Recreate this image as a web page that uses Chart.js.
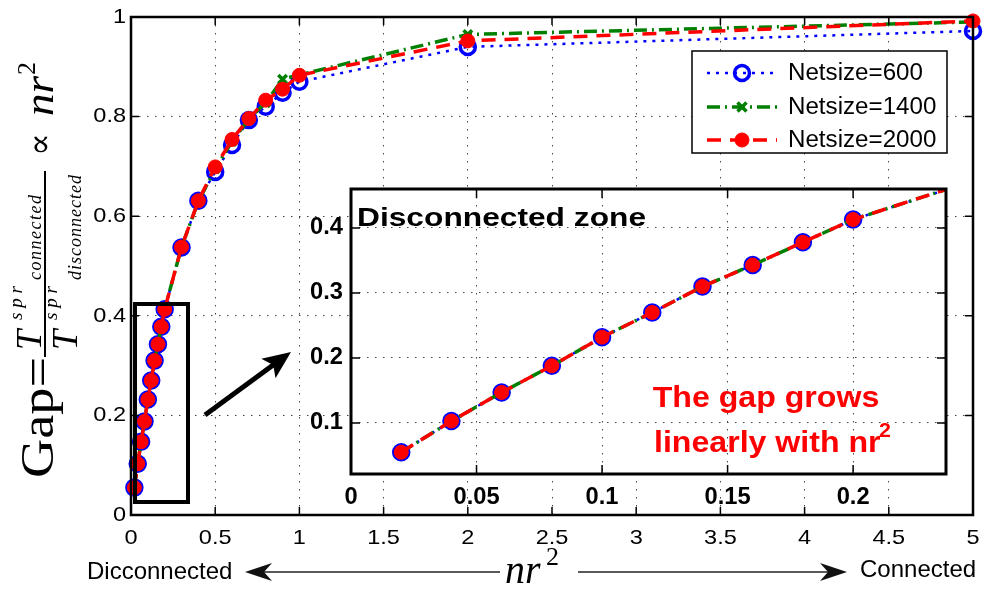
<!DOCTYPE html>
<html>
<head>
<meta charset="utf-8">
<script src="https://cdn.jsdelivr.net/npm/chart.js@4/dist/chart.umd.min.js"></script>
<style>
  html, body { margin: 0; padding: 0; background: #fff; }
  #wrap { position: relative; width: 985px; height: 590px; }
  #wrap canvas { position: absolute; left: 0; top: 0; }
</style>
</head>
<body>
<div id="wrap">
  <canvas id="main" width="985" height="590"></canvas>
  <canvas id="inset" width="985" height="590"></canvas>
</div>
<script>
// nr^2 values of the runs
const nr2 = [0.02, 0.04, 0.06, 0.08, 0.1, 0.12, 0.14, 0.16, 0.18, 0.2, 0.3, 0.4, 0.5, 0.6, 0.7, 0.8, 0.9, 1, 2, 5]

// gap = T_connected / T_disconnected for each network size
const gap600 = [0.055, 0.103, 0.147, 0.188, 0.232, 0.270, 0.310, 0.343, 0.378, 0.413, 0.537, 0.631, 0.689, 0.743, 0.793, 0.820, 0.848, 0.870, 0.940, 0.972]
const gap1400 = [0.055, 0.103, 0.147, 0.188, 0.232, 0.270, 0.310, 0.343, 0.378, 0.413, 0.538, 0.630, 0.695, 0.750, 0.795, 0.828, 0.875, 0.884, 0.965, 0.990]
const gap2000 = [0.055, 0.103, 0.147, 0.188, 0.232, 0.270, 0.310, 0.343, 0.378, 0.413, 0.538, 0.631, 0.699, 0.754, 0.796, 0.833, 0.855, 0.883, 0.952, 0.992]

const seriesNames = ['Netsize=600', 'Netsize=1400', 'Netsize=2000']

// tick values
const mainXTicks = [0, 0.5, 1, 1.5, 2, 2.5, 3, 3.5, 4, 4.5, 5]
const mainYTicks = [0, 0.2, 0.4, 0.6, 0.8, 1]
const insetXTicks = [0, 0.05, 0.1, 0.15, 0.2]
const insetYTicks = [0.1, 0.2, 0.3, 0.4]

const SANS = '"Liberation Sans", Arial, sans-serif'
const SERIF = '"Liberation Serif", "Times New Roman", serif'

// matlab-ish line styles
const styles = [
  { color: '#0000ff', dash: [3, 6], width: 2.5, point: 'circle', radius: 7.5, pbw: 3.5, fill: 'rgba(0,0,0,0)' },
  { color: '#008000', dash: [13, 5, 2, 5], width: 3.5, point: 'crossRot', radius: 6, pbw: 3.5, fill: '#008000' },
  { color: '#ff0000', dash: [14, 9], width: 3.5, point: 'circle', radius: 7, pbw: 1, fill: '#ff0000' },
]

function makeDatasets(clip) {
  return [gap600, gap1400, gap2000].map((vals, i) => ({
    label: seriesNames[i],
    data: nr2.map((x, j) => ({ x: x, y: vals[j] })),
    borderColor: styles[i].color,
    borderDash: styles[i].dash,
    borderWidth: styles[i].width,
    pointStyle: styles[i].point,
    pointRadius: styles[i].radius,
    pointBorderWidth: styles[i].pbw,
    pointBorderColor: styles[i].color,
    pointBackgroundColor: styles[i].fill,
    tension: 0,
    clip: clip,
    order: 3 - i, // red on top
  }))
}

function put(ctx, s, x, y, font, color, align, sx, base) {
  ctx.save()
  ctx.font = font
  ctx.fillStyle = color || '#000'
  ctx.textAlign = align || 'left'
  ctx.textBaseline = base || 'middle'
  ctx.translate(x, y)
  ctx.scale(sx || 1, 1)
  ctx.fillText(s, 0, 0)
  ctx.restore()
}

// spread the letters of s between u0 and u1 (latex math italic look)
function spaced(ctx, s, u0, u1, v) {
  const ws = s.split('').map(c => ctx.measureText(c).width)
  const tot = ws.reduce((a, b) => a + b, 0)
  const g = (u1 - u0 - tot) / (s.length - 1)
  let u = u0
  s.split('').forEach((c, k) => {
    ctx.fillText(c, u, v)
    u += ws[k] + g
  })
}

// squeeze/stretch a string to a given length
function fitted(ctx, s, u0, len, v) {
  const w = ctx.measureText(s).width
  ctx.save()
  ctx.translate(u0, v)
  ctx.scale(len / w, 1)
  ctx.fillText(s, 0, 0)
  ctx.restore()
}

function axisScaleOpts(ticksArr, min, max, horizontal) {
  return {
    type: 'linear',
    min: min,
    max: max,
    afterBuildTicks: s => { s.ticks = ticksArr.map(v => ({ value: v })) },
    afterFit: s => { if (horizontal) s.height = 0; else s.width = 0 },
    ticks: { display: false },
    grid: { color: '#444', lineWidth: 1, drawTicks: false },
    border: { display: false, dash: [1.5, 6.5] },
  }
}

// box + inward ticks like matlab
function drawBox(ctx, chart, tickLen, lw) {
  const a = chart.chartArea
  const xs = chart.scales.x, ys = chart.scales.y
  ctx.save()
  ctx.strokeStyle = '#000'
  ctx.lineWidth = lw
  ctx.setLineDash([])
  ctx.strokeRect(a.left, a.top, a.right - a.left, a.bottom - a.top)
  ctx.lineWidth = 1.5
  ctx.beginPath()
  xs.ticks.forEach(t => {
    const px = xs.getPixelForValue(t.value)
    ctx.moveTo(px, a.bottom); ctx.lineTo(px, a.bottom - tickLen)
    ctx.moveTo(px, a.top); ctx.lineTo(px, a.top + tickLen)
  })
  ys.ticks.forEach(t => {
    const py = ys.getPixelForValue(t.value)
    ctx.moveTo(a.left, py); ctx.lineTo(a.left + tickLen, py)
    ctx.moveTo(a.right, py); ctx.lineTo(a.right - tickLen, py)
  })
  ctx.stroke()
  ctx.restore()
}

function arrowHead(ctx, tx, ty, ang, len, half, notch) {
  const c = Math.cos(ang), s = Math.sin(ang)
  const p = (u, v) => [tx - u * c - v * s, ty - u * s + v * c]
  ctx.beginPath()
  ctx.moveTo(tx, ty)
  let q = p(len, half); ctx.lineTo(q[0], q[1])
  q = p(len - notch, 0); ctx.lineTo(q[0], q[1])
  q = p(len, -half); ctx.lineTo(q[0], q[1])
  ctx.closePath()
  ctx.fill()
}

const mainDecor = {
  id: 'mainDecor',
  afterDraw(chart) {
    const ctx = chart.ctx
    const xs = chart.scales.x, ys = chart.scales.y
    drawBox(ctx, chart, 8, 2.5)

    // tick labels
    xs.ticks.forEach(t => put(ctx, String(t.value), xs.getPixelForValue(t.value), 538, '21px ' + SANS, '#000', 'center', 1.12))
    ys.ticks.forEach(t => put(ctx, String(t.value), 126, ys.getPixelForValue(t.value), '21px ' + SANS, '#000', 'right', 1.12))

    // legend
    ctx.save()
    ctx.fillStyle = '#fff'
    ctx.fillRect(692, 51, 255, 102)
    ctx.strokeStyle = '#000'
    ctx.lineWidth = 1.5
    ctx.strokeRect(692, 51, 255, 102)
    const rows = [73, 107, 140]
    styles.forEach((st, i) => {
      const y = rows[i]
      ctx.strokeStyle = st.color
      ctx.lineWidth = st.width
      ctx.setLineDash(st.dash)
      ctx.beginPath(); ctx.moveTo(707, y); ctx.lineTo(777, y); ctx.stroke()
      ctx.setLineDash([])
      if (st.point === 'crossRot') {
        ctx.lineWidth = st.pbw
        const r = st.radius * 0.75
        ctx.beginPath()
        ctx.moveTo(742 - r, y - r); ctx.lineTo(742 + r, y + r)
        ctx.moveTo(742 - r, y + r); ctx.lineTo(742 + r, y - r)
        ctx.stroke()
      } else {
        ctx.beginPath(); ctx.arc(742, y, st.radius, 0, Math.PI * 2)
        ctx.fillStyle = st.fill; ctx.fill()
        ctx.lineWidth = st.pbw; ctx.stroke()
      }
      put(ctx, seriesNames[i], 788, y + 1, '23px ' + SANS, '#000', 'left', 1.05)
    })
    ctx.restore()

    // zoom rectangle and arrow
    ctx.save()
    ctx.strokeStyle = '#000'
    ctx.fillStyle = '#000'
    ctx.lineWidth = 4
    ctx.strokeRect(135, 304, 53, 198)
    const ang = Math.atan2(352 - 415, 291 - 205)
    ctx.lineWidth = 5
    ctx.beginPath(); ctx.moveTo(205, 415); ctx.lineTo(205 + 0.8 * 86, 415 - 0.8 * 63); ctx.stroke()
    arrowHead(ctx, 291, 352, ang, 28, 12, 6)

    // bottom annotation arrows
    ctx.strokeStyle = '#222'
    ctx.fillStyle = '#111'
    ctx.lineWidth = 1.5
    ctx.beginPath(); ctx.moveTo(255, 572); ctx.lineTo(500, 572); ctx.stroke()
    arrowHead(ctx, 245, 572, Math.PI, 27, 9, 8)
    ctx.beginPath(); ctx.moveTo(578, 572); ctx.lineTo(837, 572); ctx.stroke()
    arrowHead(ctx, 847, 572, 0, 27, 9, 8)
    ctx.restore()
    put(ctx, 'Dicconnected', 87, 572, '24px ' + SANS, '#000', 'left', 1)
    put(ctx, 'Connected', 860, 570, '24px ' + SANS, '#000', 'left', 1)

    // x label  nr^2
    put(ctx, 'nr', 505, 583, 'italic 42px ' + SERIF, '#000', 'left', 0.95, 'alphabetic')
    put(ctx, '2', 546, 565, '26px ' + SERIF, '#000', 'left', 1, 'alphabetic')

    // y label  Gap = T^spr_connected / T^spr_disconnected  ∝ nr^2
    ctx.save()
    ctx.translate(53, 478)
    ctx.rotate(-Math.PI / 2)
    ctx.fillStyle = '#000'
    ctx.textBaseline = 'alphabetic'
    ctx.font = '46px ' + SERIF
    fitted(ctx, 'Gap=', 0, 121, 0)
    ctx.fillRect(121, -9, 186, 2)
    ctx.font = 'italic 36px ' + SERIF
    ctx.fillText('T', 128, -12)
    ctx.fillText('T', 128, 24)
    ctx.font = 'italic 19px ' + SERIF
    spaced(ctx, 'spr', 158, 192, -31)
    spaced(ctx, 'spr', 158, 192, 4)
    ctx.font = 'italic 18px ' + SERIF
    spaced(ctx, 'connected', 198, 283, -12)
    spaced(ctx, 'disconnected', 198, 303, 28)
    ctx.font = '34px "DejaVu Serif", serif'
    ctx.fillText('\u221D', 322, -2)
    ctx.font = 'italic 42px ' + SERIF
    fitted(ctx, 'nr', 362, 40, 0)
    ctx.font = '26px ' + SERIF
    ctx.fillText('2', 403, -18)
    ctx.restore()
  },
}

const insetDecor = {
  id: 'insetDecor',
  beforeDraw(chart) {
    const a = chart.chartArea
    chart.ctx.save()
    chart.ctx.fillStyle = '#fff'
    chart.ctx.fillRect(a.left, a.top, a.right - a.left, a.bottom - a.top)
    chart.ctx.restore()
  },
  afterDraw(chart) {
    const ctx = chart.ctx
    const xs = chart.scales.x, ys = chart.scales.y
    drawBox(ctx, chart, 9, 3)
    xs.ticks.forEach(t => put(ctx, String(t.value), xs.getPixelForValue(t.value), 498, 'bold 23px ' + SANS, '#000', 'center', 1.03))
    ys.ticks.forEach(t => put(ctx, String(t.value), 343, ys.getPixelForValue(t.value), 'bold 23px ' + SANS, '#000', 'right', 1.03))
    put(ctx, 'Disconnected zone', 357, 226, 'bold 26px ' + SANS, '#000', 'left', 1.22, 'alphabetic')
    put(ctx, 'The gap grows', 766, 407, 'bold 30px ' + SANS, '#ff0000', 'center', 1.07, 'alphabetic')
    put(ctx, 'linearly with nr', 654, 452, 'bold 30px ' + SANS, '#ff0000', 'left', 1.07, 'alphabetic')
    put(ctx, '2', 879, 437, 'bold 20px ' + SANS, '#ff0000', 'left', 1.07, 'alphabetic')
  },
}

new Chart(document.getElementById('main').getContext('2d'), {
  type: 'line',
  data: { datasets: makeDatasets(false) },
  options: {
    responsive: false,
    animation: false,
    events: [],
    layout: { padding: { left: 131, right: 12, top: 17, bottom: 75 } },
    plugins: { legend: { display: false }, tooltip: { enabled: false } },
    scales: {
      x: axisScaleOpts(mainXTicks, 0, 5, true),
      y: axisScaleOpts(mainYTicks, 0, 1, false),
    },
  },
  plugins: [mainDecor],
})

new Chart(document.getElementById('inset').getContext('2d'), {
  type: 'line',
  data: { datasets: makeDatasets(1) },
  options: {
    responsive: false,
    animation: false,
    events: [],
    layout: { padding: { left: 351, right: 39, top: 189, bottom: 116 } },
    plugins: { legend: { display: false }, tooltip: { enabled: false } },
    scales: {
      x: axisScaleOpts(insetXTicks, 0, 0.237, true),
      y: axisScaleOpts(insetYTicks, 0.0215, 0.46, false),
    },
  },
  plugins: [insetDecor],
})
</script>
</body>
</html>
